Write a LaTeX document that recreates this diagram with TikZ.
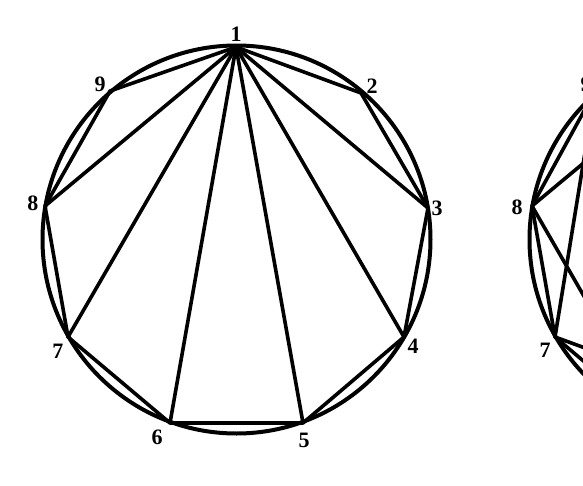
\documentclass[tikz,border=0pt]{standalone}
\usepackage{fontspec}
\setmainfont{Liberation Serif}

\begin{document}
\begin{tikzpicture}[x=0.75pt,y=-0.75pt,
    ring/.style={line width=3pt},
    chord/.style={line width=2.7pt,line join=round},
    num/.style={font=\fontsize{16.5}{19}\selectfont\bfseries,inner sep=0pt}]
      \useasboundingbox (0,0) rectangle (583,486);
      \clip (0,0) rectangle (583,486);

      % left circle
      \coordinate (c) at (236.5,239.5);
      \coordinate (v1) at (236,47);
      \coordinate (v2) at (361,93);
      \coordinate (v3) at (428,208);
      \coordinate (v4) at (404,337);
      \coordinate (v5) at (303,423);
      \coordinate (v6) at (170,423);
      \coordinate (v7) at (68,337);
      \coordinate (v8) at (45,206);
      \coordinate (v9) at (110,91);

      \node[num] (n1) at (236,34) {1};
      \node[num] (n2) at (372,86) {2};
      \node[num] (n3) at (437,208) {3};
      \node[num] (n4) at (413,346) {4};
      \node[num] (n5) at (304,440) {5};
      \node[num] (n6) at (157,437) {6};
      \node[num] (n7) at (58,351) {7};
      \node[num] (n8) at (33,203) {8};
      \node[num] (n9) at (100,84) {9};

      \draw[ring] (c) circle[radius=194];

      \draw[chord] (v1) -- (v2) -- (v3) -- (v4) -- (v5) -- (v6) -- (v7) -- (v8) -- (v9) -- cycle;
      \draw[chord] (v1) -- (v3);
      \draw[chord] (v1) -- (v4);
      \draw[chord] (v1) -- (v5);
      \draw[chord] (v1) -- (v6);
      \draw[chord] (v1) -- (v7);
      \draw[chord] (v1) -- (v8);

      % right circle (cut off)
      \coordinate (d) at (723.5,239.5);
      \coordinate (w1) at (723,47);
      \coordinate (w5) at (790,423);
      \coordinate (w6) at (657,423);
      \coordinate (w7) at (555,337);
      \coordinate (w8) at (532,206);
      \coordinate (w9) at (595,91);

      \node[num] (m7) at (545,350) {7};
      \node[num] (m8) at (517,207) {8};
      \node[num] (m9) at (586,84) {9};

      \draw[ring] (d) circle[radius=194];

      \draw[chord] (w9) -- (w8) -- (w7) -- (w6);
      \draw[chord] (w8) -- (w1);
      \draw[chord] (w8) -- (w6);
      \draw[chord] (w7) -- (w9);
      \draw[chord] (w7) -- (w5);

\end{tikzpicture}
\end{document}
